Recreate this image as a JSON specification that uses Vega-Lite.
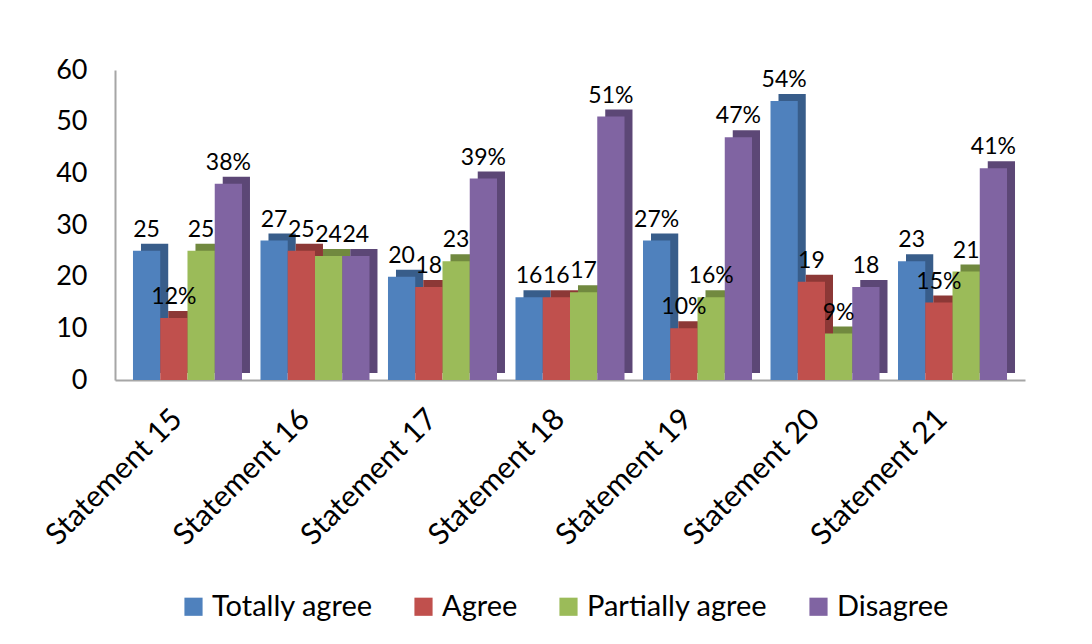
{
  "$schema": "https://vega.github.io/schema/vega-lite/v6.json",
  "autosize": "none",
  "width": 910,
  "height": 310,
  "padding": {"left": 115, "top": 70, "right": 67, "bottom": 264},
  "background": "white",
  "config": {
    "font": "Lato",
    "view": {"stroke": null}
  },
  "data": {
    "values": [
      {"statement": "Statement 15", "category": "Totally agree", "value": 25, "label": "25"},
      {"statement": "Statement 15", "category": "Agree", "value": 12, "label": "12%"},
      {"statement": "Statement 15", "category": "Partially agree", "value": 25, "label": "25"},
      {"statement": "Statement 15", "category": "Disagree", "value": 38, "label": "38%"},
      {"statement": "Statement 16", "category": "Totally agree", "value": 27, "label": "27"},
      {"statement": "Statement 16", "category": "Agree", "value": 25, "label": "25"},
      {"statement": "Statement 16", "category": "Partially agree", "value": 24, "label": "24"},
      {"statement": "Statement 16", "category": "Disagree", "value": 24, "label": "24"},
      {"statement": "Statement 17", "category": "Totally agree", "value": 20, "label": "20"},
      {"statement": "Statement 17", "category": "Agree", "value": 18, "label": "18"},
      {"statement": "Statement 17", "category": "Partially agree", "value": 23, "label": "23"},
      {"statement": "Statement 17", "category": "Disagree", "value": 39, "label": "39%"},
      {"statement": "Statement 18", "category": "Totally agree", "value": 16, "label": "16"},
      {"statement": "Statement 18", "category": "Agree", "value": 16, "label": "16"},
      {"statement": "Statement 18", "category": "Partially agree", "value": 17, "label": "17"},
      {"statement": "Statement 18", "category": "Disagree", "value": 51, "label": "51%"},
      {"statement": "Statement 19", "category": "Totally agree", "value": 27, "label": "27%"},
      {"statement": "Statement 19", "category": "Agree", "value": 10, "label": "10%"},
      {"statement": "Statement 19", "category": "Partially agree", "value": 16, "label": "16%"},
      {"statement": "Statement 19", "category": "Disagree", "value": 47, "label": "47%"},
      {"statement": "Statement 20", "category": "Totally agree", "value": 54, "label": "54%"},
      {"statement": "Statement 20", "category": "Agree", "value": 19, "label": "19"},
      {"statement": "Statement 20", "category": "Partially agree", "value": 9, "label": "9%"},
      {"statement": "Statement 20", "category": "Disagree", "value": 18, "label": "18"},
      {"statement": "Statement 21", "category": "Totally agree", "value": 23, "label": "23"},
      {"statement": "Statement 21", "category": "Agree", "value": 15, "label": "15%"},
      {"statement": "Statement 21", "category": "Partially agree", "value": 21, "label": "21"},
      {"statement": "Statement 21", "category": "Disagree", "value": 41, "label": "41%"}
    ]
  },
  "encoding": {
    "x": {
      "field": "statement",
      "type": "nominal",
      "title": null,
      "scale": {"paddingInner": 0.145, "paddingOuter": 0.141},
      "axis": {
        "labelAngle": -45,
        "labelAlign": "right",
        "labelBaseline": "middle",
        "labelFontSize": 30,
        "labelColor": "#000000",
        "labelPadding": 34,
        "labelOffset": -10,
        "labelLimit": 400,
        "ticks": false,
        "domainColor": "#a6a6a6",
        "domainWidth": 2
      }
    },
    "y": {
      "field": "value",
      "type": "quantitative",
      "title": null,
      "scale": {"domain": [0, 60], "nice": false},
      "axis": {
        "values": [0, 10, 20, 30, 40, 50, 60],
        "labelFontSize": 27,
        "labelColor": "#000000",
        "labelPadding": 28,
        "ticks": false,
        "grid": false,
        "domainColor": "#a6a6a6",
        "domainWidth": 2
      }
    }
  },
  "layer": [
    {
      "mark": {"type": "bar", "yOffset": -7},
      "encoding": {
        "xOffset": {
          "field": "category",
          "sort": ["Totally agree", "Agree", "Partially agree", "Disagree"],
          "scale": {"range": [8, 117]}
        },
        "color": {
          "field": "category",
          "type": "nominal",
          "sort": ["Totally agree", "Agree", "Partially agree", "Disagree"],
          "scale": {"range": ["#385D8A", "#8C3836", "#71893F", "#5C4776"]},
          "legend": null
        }
      }
    },
    {
      "mark": {"type": "bar"},
      "encoding": {
        "xOffset": {
          "field": "category",
          "sort": ["Totally agree", "Agree", "Partially agree", "Disagree"]
        },
        "color": {
          "field": "category",
          "type": "nominal",
          "sort": ["Totally agree", "Agree", "Partially agree", "Disagree"],
          "scale": {"range": ["#4F81BD", "#C0504D", "#9BBB59", "#8064A2"]},
          "legend": {
            "title": null,
            "orient": "none",
            "legendX": 64,
            "legendY": 522,
            "direction": "horizontal",
            "symbolType": "square",
            "symbolSize": 330,
            "symbolStrokeWidth": 0,
            "labelFontSize": 29,
            "labelLimit": 400,
            "labelColor": "#000000",
            "columnPadding": 36
          }
        }
      }
    },
    {
      "mark": {"type": "text", "baseline": "bottom", "dy": -9, "fontSize": 23, "color": "#000000"},
      "encoding": {
        "xOffset": {
          "field": "category",
          "sort": ["Totally agree", "Agree", "Partially agree", "Disagree"]
        },
        "text": {"field": "label"}
      }
    }
  ],
  "resolve": {"scale": {"color": "independent", "xOffset": "independent"}}
}
